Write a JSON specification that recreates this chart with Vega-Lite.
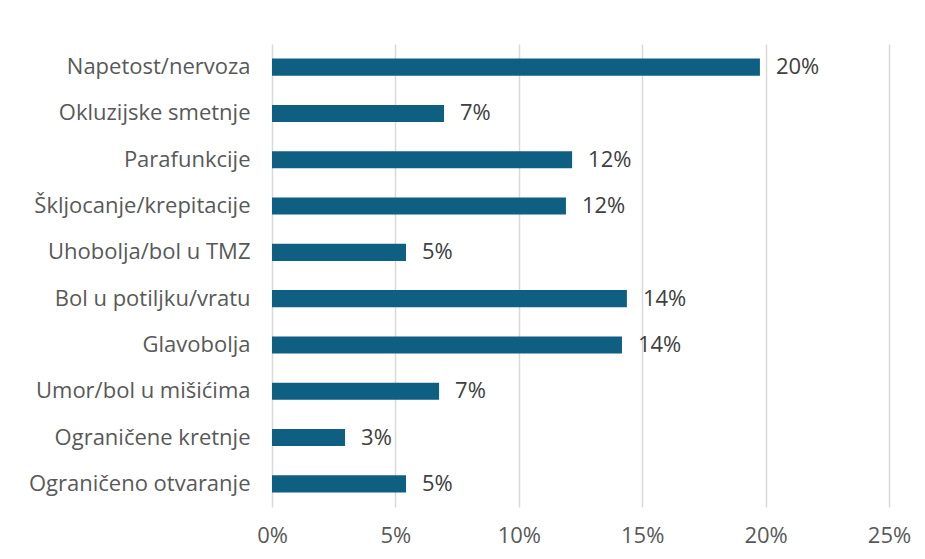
{
  "$schema": "https://vega.github.io/schema/vega-lite/v6.json",
  "width": 617,
  "height": 463,
  "autosize": {"type": "none"},
  "padding": {"left": 272, "top": 44, "right": 36, "bottom": 52},
  "background": "white",
  "config": {
    "view": {"stroke": null},
    "font": "Open Sans",
    "axis": {"labelFont": "Open Sans", "labelColor": "#595959", "labelFontSize": 22, "labelLimit": 400}
  },
  "data": {
    "values": [
      {"kategorija": "Napetost/nervoza", "udio": 0.1977},
      {"kategorija": "Okluzijske smetnje", "udio": 0.0697},
      {"kategorija": "Parafunkcije", "udio": 0.1216},
      {"kategorija": "Škljocanje/krepitacije", "udio": 0.1191},
      {"kategorija": "Uhobolja/bol u TMZ", "udio": 0.0543},
      {"kategorija": "Bol u potiljku/vratu", "udio": 0.1438},
      {"kategorija": "Glavobolja", "udio": 0.1418},
      {"kategorija": "Umor/bol u mišićima", "udio": 0.0677},
      {"kategorija": "Ograničene kretnje", "udio": 0.0296},
      {"kategorija": "Ograničeno otvaranje", "udio": 0.0543}
    ]
  },
  "encoding": {
    "y": {
      "field": "kategorija",
      "type": "nominal",
      "sort": null,
      "scale": {"paddingInner": 0.63, "paddingOuter": 0.315},
      "axis": {"title": null, "domain": false, "ticks": false, "labelPadding": 22, "grid": false}
    },
    "x": {
      "field": "udio",
      "type": "quantitative",
      "scale": {"domain": [0, 0.25], "nice": false},
      "axis": {
        "title": null,
        "format": ".0%",
        "values": [0, 0.05, 0.1, 0.15, 0.2, 0.25],
        "domain": false,
        "ticks": false,
        "grid": true,
        "gridColor": "#d9d9d9",
        "gridWidth": 1.5,
        "labelFlush": false,
        "labelPadding": 18
      }
    }
  },
  "layer": [
    {"mark": {"type": "bar", "color": "#0f5f82"}},
    {
      "mark": {"type": "text", "align": "left", "baseline": "middle", "dx": 16, "fontSize": 22, "color": "#404040", "font": "Open Sans"},
      "encoding": {"text": {"field": "udio", "type": "quantitative", "format": ".0%"}}
    }
  ]
}
